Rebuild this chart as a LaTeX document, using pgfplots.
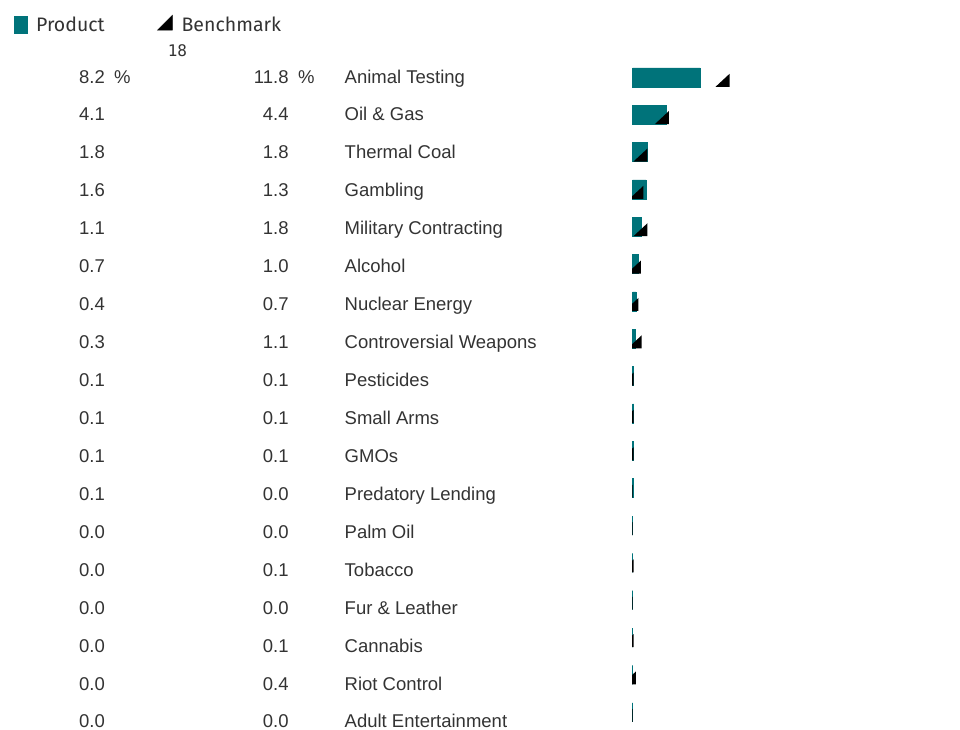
\documentclass[border=0pt]{standalone}
\usepackage{fontspec}
\setmainfont{Liberation Sans}
\newfontfamily\legendfont{Fira Sans}
\newfontfamily\countfont{DejaVu Sans Mono}
\usepackage{pgfplots}
\usepackage{pgfplotstable}
\pgfplotsset{compat=1.18}

\definecolor{teal0115122}{RGB}{0,115,122}
\definecolor{textgray}{RGB}{51,51,51}

% benchmark marker: right angle at bottom right, right edge = value
\pgfdeclareplotmark{benchtri}{%
  \pgfpathmoveto{\pgfqpoint{0pt}{-9.5bp}}%
  \pgfpathlineto{\pgfqpoint{0pt}{3.5bp}}%
  \pgfpathlineto{\pgfqpoint{-14bp}{-9.5bp}}%
  \pgfpathclose
  \pgfusepathqfill
}

\pgfplotstableread[col sep=comma]{
idx,prod,bench,name
0,8.2,11.8,Animal Testing
1,4.1,4.4,Oil \& Gas
2,1.8,1.8,Thermal Coal
3,1.6,1.3,Gambling
4,1.1,1.8,Military Contracting
5,0.7,1.0,Alcohol
6,0.4,0.7,Nuclear Energy
7,0.3,1.1,Controversial Weapons
8,0.1,0.1,Pesticides
9,0.1,0.1,Small Arms
10,0.1,0.1,GMOs
11,0.1,0.0,Predatory Lending
12,0.0,0.0,Palm Oil
13,0.0,0.1,Tobacco
14,0.0,0.0,Fur \& Leather
15,0.0,0.1,Cannabis
16,0.0,0.4,Riot Control
17,0.0,0.0,Adult Entertainment
}\screens

\begin{document}
\begin{tikzpicture}
\path[use as bounding box] (0,0) rectangle (960bp,730bp);

% table text: x in pixels, one row per screen
\begin{axis}[
at={(0,0)}, anchor=south west,
width=960bp, height=730bp, scale only axis,
hide axis, clip=false,
xmin=0, xmax=960,
ymin=-2.188, ymax=17.053, y dir=reverse,
legend columns=2,
legend cell align={left},
legend style={
  at={(0,1)}, anchor=north west,
  xshift=14bp, yshift=-15bp,
  draw=none, fill=none, inner sep=0pt, outer sep=0pt,
  nodes={inner sep=0pt},
  font=\legendfont\fontsize{19.5bp}{21bp}\selectfont,
  text=textgray,
  /tikz/every odd column/.style={column sep=9bp},
  /tikz/every even column/.style={column sep=52.5bp}
},
every node near coord/.append style={
  inner sep=0pt,
  font=\fontsize{18.5bp}{21bp}\selectfont,
  text=textgray
}
]
\addlegendimage{legend image code/.code={
  \fill[teal0115122] (0bp,-8.4bp) rectangle (12.7bp,8.3bp);}}
\addlegendentry{Product}
\addlegendimage{legend image code/.code={
  \fill[black] (0bp,-5.7bp) -- (15bp,-5.7bp) -- (15bp,9.3bp) -- cycle;}}
\addlegendentry{Benchmark}

\addplot [draw=none, nodes near coords, point meta=explicit symbolic,
  every node near coord/.append style={anchor=base west}]
  table [x expr=79, y=idx, meta=prod] {\screens};
\addplot [draw=none, nodes near coords, point meta=explicit symbolic,
  every node near coord/.append style={anchor=base east}]
  table [x expr=288.8, y=idx, meta=bench] {\screens};
\addplot [draw=none, nodes near coords, point meta=explicit symbolic,
  every node near coord/.append style={anchor=base west}]
  table [x expr=344.5, y=idx, meta=name] {\screens};

\node [anchor=base west, inner sep=0pt, text=textgray,
  font=\fontsize{18.5bp}{21bp}\selectfont] at (axis cs:114,0) {\%};
\node [anchor=base west, inner sep=0pt, text=textgray,
  font=\fontsize{18.5bp}{21bp}\selectfont] at (axis cs:298,0) {\%};
\node [anchor=base, inner sep=0pt, text=textgray,
  font=\countfont\fontsize{16bp}{18bp}\selectfont] at (axis cs:177.5,-0.70) {18};
\end{axis}

% bars and benchmark markers
\begin{axis}[
at={(632bp,0)}, anchor=south west,
width=328bp, height=730bp, scale only axis,
hide axis,
clip marker paths=true,
xmin=-0.085, xmax=39.87,
ymin=-2.0696, ymax=17.475, y dir=reverse
]
\addplot [xbar, bar width=19bp, fill=teal0115122, draw=teal0115122, line width=0.5bp]
  table [x=prod, y=idx] {\screens};
\addplot [only marks, mark=benchtri, mark options={fill=black, draw=none}]
  table [x=bench, y=idx] {\screens};
\end{axis}

\end{tikzpicture}
\end{document}
